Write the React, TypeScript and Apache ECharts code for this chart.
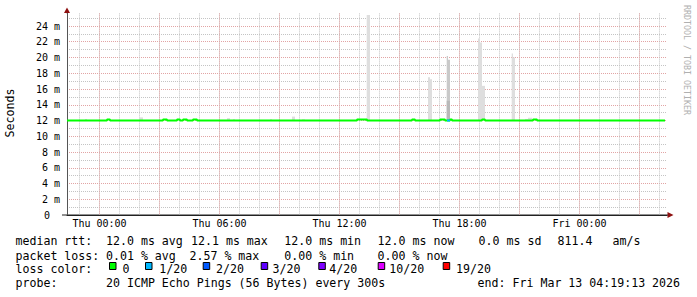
import React, { useEffect, useRef } from 'react';
import * as echarts from 'echarts';

// ---- time axis: hours relative to Thu 00:00 ----
const X_MIN = -1.625;
const X_MAX = 28.375;
const Y_MAX = 25.6; // ms
const dayLabels: Record<number, string> = {
  0: 'Thu 00:00',
  6: 'Thu 06:00',
  12: 'Thu 12:00',
  18: 'Thu 18:00',
  24: 'Fri 00:00',
};

// median rtt in ms as step changes: [hour, ms]
const medianSteps: number[][] = [
  [-1.625, 12.0],
  [0.375, 12.12], [0.525, 12.0],
  [3.175, 12.12], [3.375, 12.0],
  [3.875, 12.12], [4.025, 12.0],
  [4.175, 12.12], [4.375, 12.0],
  [4.675, 12.12], [4.875, 12.0],
  [12.875, 12.12], [13.375, 12.0],
  [15.625, 12.12], [15.775, 12.0],
  [17.025, 12.12], [17.275, 12.0],
  [17.525, 12.12], [17.625, 12.0],
  [19.125, 12.12], [19.275, 12.0],
  [21.675, 12.12], [21.875, 12.0],
  [28.275, 12.0],
];
// median segments with packet loss: [start, end, ms, lossLevel]
const lossSegments: number[][] = [[17.375, 17.525, 12.0, 1]];

// smoke: [start hour, end hour, low ms, high ms, shade]
const smoke: number[][] = [
  [-0.725, -0.625, 11.95, 12.2, 0],
  [1.975, 2.175, 11.95, 12.4, 0],
  [6.375, 6.525, 11.95, 12.3, 0],
  [6.675, 6.775, 11.95, 12.15, 0],
  [8.525, 8.625, 11.95, 12.15, 0],
  [9.625, 9.775, 11.95, 12.5, 0],
  [10.125, 10.275, 11.95, 12.15, 0],
  [13.36, 13.525, 11.95, 25.4, 0],
  [16.425, 16.525, 11.95, 17.5, 0],
  [16.525, 16.625, 11.95, 17.25, 0],
  [17.36, 17.425, 11.95, 20.2, 1],
  [17.425, 17.525, 11.95, 19.7, 1],
  [17.36, 17.525, 11.95, 14.5, 2],
  [18.925, 19.025, 11.95, 22.4, 0],
  [19.025, 19.125, 11.95, 21.9, 0],
  [19.125, 19.275, 11.95, 16.4, 0],
  [20.61, 20.675, 11.95, 20.5, 0],
  [20.675, 20.775, 11.95, 20.0, 0],
  [21.275, 21.425, 11.95, 12.2, 0],
  [21.425, 21.625, 11.95, 12.35, 0],
];
const smokeShades = ['#dedede', '#c9c9c9', '#b9b9b9'];

// loss colour legend
const lossLabels = ['0', '1/20', '2/20', '3/20', '4/20', '10/20', '19/20'];
const lossColors = ['#00ff00', '#00b8ff', '#0059ff', '#5e00ff', '#7e00ff', '#dd00ff', '#ff0000'];

// statistics
const medianStats = ['12.0', '12.1', '12.0', '12.0']; // avg, max, min, now
const medianSd = '0.0';
const medianAmS = '811.4';
const lossStats = ['0.01', '2.57', '0.00', '0.00']; // avg, max, min, now
const probeText = '20 ICMP Echo Pings (56 Bytes) every 300s';
const endText = 'end: Fri Mar 13 04:19:13 2026';

const MONO = '"DejaVu Sans Mono", monospace';
const FS = 11.6;

export default function App() {
  const ref = useRef<HTMLDivElement>(null);
  useEffect(() => {
    if (!ref.current) return;
    const chart = echarts.init(ref.current, undefined, { renderer: 'svg' });

    const gridTop = 13.4;
    const gridH = 201.6;
    const pxPerH = 20;
    const left0 = 67;

    const txt = (text: string, x: number, y: number, extra: any = {}) => ({
      type: 'text',
      x,
      y,
      z: 50,
      style: {
        text,
        fontFamily: MONO,
        fontSize: FS,
        fill: '#000',
        align: 'left',
        verticalAlign: 'middle',
        ...extra,
      },
    });

    const r1 = 241.3, r2 = 255.7, r3 = 269.2, r4 = 283;
    const graphics: any[] = [
      txt('median rtt:', 15.5, r1),
      txt(`${medianStats[0]} ms avg`, 106, r1),
      txt(`${medianStats[1]} ms max`, 191, r1),
      txt(`${medianStats[2]} ms min`, 284.3, r1),
      txt(`${medianStats[3]} ms now`, 377.6, r1),
      txt(`${medianSd} ms sd`, 478.6, r1),
      txt(medianAmS, 557.6, r1),
      txt('am/s', 612.6, r1),
      txt('packet loss:', 15.5, r2),
      txt(`${lossStats[0]} % avg`, 106, r2),
      txt(`${lossStats[1]} % max`, 189.5, r2),
      txt(`${lossStats[2]} % min`, 284.3, r2),
      txt(`${lossStats[3]} % now`, 377.6, r2),
      txt('loss color:', 15.5, r3),
      txt('probe:', 15.5, r4),
      txt(probeText, 106, r4),
      txt(endText, 477.6, r4),
      {
        type: 'text',
        x: 10,
        y: 113,
        rotation: Math.PI / 2,
        style: { text: 'Seconds', fontFamily: MONO, fontSize: FS, fill: '#000', align: 'center', verticalAlign: 'middle' },
      },
      {
        type: 'text',
        x: 687,
        y: 60,
        rotation: -Math.PI / 2,
        style: { text: 'RRDTOOL / TOBI OETIKER', fontFamily: MONO, fontSize: 8.3, fill: '#b0b0b0', align: 'center', verticalAlign: 'middle' },
      },
      // axis extensions and arrows
      { type: 'line', shape: { x1: 67, y1: 10, x2: 67, y2: gridTop }, style: { stroke: '#555', lineWidth: 1 } },
      { type: 'line', shape: { x1: 62, y1: 215, x2: 668, y2: 215 }, style: { stroke: '#222', lineWidth: 1 } },
      { type: 'polygon', shape: { points: [[64, 13], [70, 13], [67, 7.5]] }, style: { fill: '#8e1010' } },
      { type: 'polygon', shape: { points: [[667.5, 212], [667.5, 218], [673.5, 215]] }, style: { fill: '#8e1010' } },
    ];

    const swX = [109, 145, 202.7, 260.7, 318.3, 377.7, 442.7];
    const swTextX = [122.6, 159.3, 216, 272.6, 329.3, 389.3, 456];
    lossLabels.forEach((lab, i) => {
      graphics.push({
        type: 'rect',
        shape: { x: swX[i] + 0.5, y: 262.5, width: 6.5, height: 7 },
        style: { fill: lossColors[i], stroke: '#000', lineWidth: 1 },
        z: 50,
      });
      graphics.push(txt(lab, swTextX[i], r3));
    });

    const hiddenY = (gridIndex: number) => ({ gridIndex, type: 'value', min: 0, max: 1, show: false });
    const dotted = [1, 1];

    const option: any = {
      animation: false,
      backgroundColor: '#ffffff',
      grid: [
        { left: left0, top: gridTop, width: (X_MAX - X_MIN) * pxPerH, height: gridH, containLabel: false },
        { left: left0 - (X_MIN + 2) * pxPerH, top: gridTop, width: (X_MAX + 2) * pxPerH, height: gridH, containLabel: false },
        { left: left0 - (X_MIN + 3) * pxPerH, top: gridTop, width: (X_MAX + 3) * pxPerH, height: gridH, containLabel: false },
      ],
      xAxis: [
        {
          gridIndex: 0, type: 'value', min: X_MIN, max: X_MAX,
          axisLine: { show: true, onZero: false, lineStyle: { color: '#222', width: 1 } },
          axisTick: { show: false }, axisLabel: { show: false }, splitLine: { show: false },
        },
        {
          gridIndex: 1, type: 'value', min: -2, max: X_MAX, interval: 1,
          axisLine: { show: false }, axisTick: { show: false }, axisLabel: { show: false },
          splitLine: { show: true, showMinLine: false, showMaxLine: false, lineStyle: { color: '#c4c4c4', width: 1, type: dotted } },
        },
        {
          gridIndex: 2, type: 'value', min: -3, max: X_MAX, interval: 3,
          axisLine: { show: false }, axisTick: { show: false },
          axisLabel: {
            show: true, margin: 3, fontFamily: MONO, fontSize: 10, color: '#000',
            showMinLabel: false, showMaxLabel: false,
            formatter: (v: number) => dayLabels[Math.round(v)] ?? '',
          },
          splitLine: { show: true, showMinLine: false, showMaxLine: false, lineStyle: { color: '#e2a4a4', width: 1, type: dotted } },
        },
      ],
      yAxis: [
        {
          gridIndex: 0, type: 'value', min: 0, max: Y_MAX, interval: 2,
          axisLine: { show: true, onZero: false, lineStyle: { color: '#555', width: 1 } },
          axisTick: { show: false },
          axisLabel: {
            margin: 7, fontFamily: MONO, fontSize: 10, color: '#000', showMaxLabel: false,
            formatter: (v: number) => (v === 0 ? '{z|0}' : `${v} m`),
            rich: { z: { fontFamily: MONO, fontSize: 10, color: '#000', padding: [0, 10, 0, 0] } },
          },
          splitLine: { show: true, showMinLine: false, showMaxLine: false, lineStyle: { color: '#e2a4a4', width: 1, type: dotted } },
          minorTick: { show: false, splitNumber: 2 },
          minorSplitLine: { show: true, lineStyle: { color: '#c4c4c4', width: 1, type: dotted } },
        },
        hiddenY(1),
        hiddenY(2),
      ],
      series: [
        {
          type: 'custom',
          xAxisIndex: 0, yAxisIndex: 0,
          data: smoke,
          encode: { x: [0, 1], y: [2, 3] },
          z: 2,
          renderItem: (params: any, api: any) => {
            const p0 = api.coord([api.value(0), api.value(3)]);
            const p1 = api.coord([api.value(1), api.value(2)]);
            return {
              type: 'rect',
              shape: { x: p0[0], y: p0[1], width: p1[0] - p0[0], height: p1[1] - p0[1] },
              style: { fill: smokeShades[api.value(4)] },
            };
          },
        },
        {
          type: 'line',
          xAxisIndex: 0, yAxisIndex: 0,
          data: medianSteps,
          step: 'end',
          showSymbol: false,
          z: 3,
          lineStyle: { color: lossColors[0], width: 2 },
        },
        ...lossSegments.map((s) => ({
          type: 'line',
          xAxisIndex: 0, yAxisIndex: 0,
          data: [[s[0], s[2]], [s[1], s[2]]],
          showSymbol: false,
          z: 4,
          lineStyle: { color: lossColors[s[3]], width: 2 },
        })),
      ],
      graphic: graphics,
    };

    chart.setOption(option);
    return () => chart.dispose();
  }, []);

  return <div ref={ref} style={{ position: 'fixed', left: 0, top: 0, width: 697, height: 297, background: '#fff' }} />;
}
